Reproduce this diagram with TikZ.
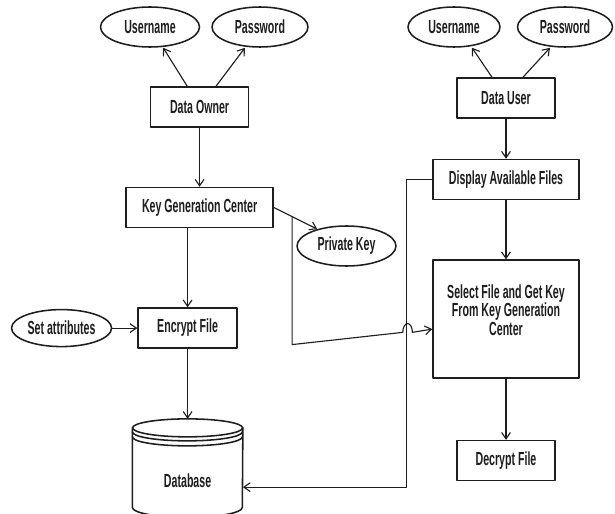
\documentclass[tikz,border=0pt]{standalone}
\usepackage{fontspec}
\usepackage{tikz}
\usetikzlibrary{arrows.meta,positioning,calc,shapes.geometric}
\newfontfamily\boxfont[FakeStretch=0.56]{Liberation Sans}
\definecolor{ink}{HTML}{1E1E1E}
\tikzset{
    every picture/.style={line cap=round,line join=round},
    procbox/.style={draw=ink,fill=white,line width=1.1pt,
      minimum width=24.5mm,minimum height=10mm,inner sep=2pt,
      font={\boxfont\bfseries\fontsize{13.5}{13}\selectfont},text=ink,align=center},
    attrnode/.style={draw=ink,ellipse,fill=white,line width=1.1pt,
      minimum width=24mm,minimum height=10mm,inner sep=1pt,
      font={\boxfont\bfseries\fontsize{13.5}{13}\selectfont},text=ink,align=center},
    flowarrow/.style={-{Straight Barb[length=1.6mm,width=2.2mm]},draw=ink,
      line width=0.8pt}
}
\begin{document}
\begin{tikzpicture}[font=\small]
    \useasboundingbox (0,0) rectangle (15.375,-12.85);
    % data owner side
    \node[procbox] (owner) at (4.99,-2.675) {Data Owner};
    \node[attrnode,minimum width=24.75mm] (user1) at (3.75,-0.675) {Username};
    \node[attrnode] (pass1) at (6.5,-0.675) {Password};
    \node[procbox,minimum width=36.75mm,below=1.475cm of owner] (kgc) {Key Generation Center};
    \node[procbox,minimum width=24.75mm,below=1.975cm of kgc,xshift=-0.3cm] (enc) {Encrypt File};
    \node[attrnode,minimum width=24.25mm,minimum height=9.25mm,left=0.625cm of enc] (attr) {Set attributes};
    \node[minimum width=27.5mm,minimum height=24.5mm,inner sep=0pt,below=1.75cm of enc] (db) {};
    \node[attrnode,minimum width=24.75mm] (pk) at (8.6625,-6.15) {Private Key};
    % database drawing
    \draw[draw=ink,line width=1.1pt,fill=white]
      ([yshift=-0.225cm]db.north west) -- ([yshift=0.25cm]db.south west)
      arc[start angle=180,end angle=360,x radius=1.375cm,y radius=0.25cm]
      -- ([yshift=-0.225cm]db.north east);
    \draw[draw=ink,line width=1.1pt]
      ([yshift=-0.225cm]db.north) ellipse[x radius=1.375cm,y radius=0.225cm];
    \draw[draw=ink,line width=1.1pt]
      ([yshift=-0.325cm]db.north west) arc[start angle=180,end angle=360,x radius=1.375cm,y radius=0.225cm];
    \draw[draw=ink,line width=1.1pt]
      ([yshift=-0.45cm]db.north west) arc[start angle=180,end angle=360,x radius=1.375cm,y radius=0.225cm];
    \node[font={\boxfont\bfseries\fontsize{13.5}{13}\selectfont},text=ink] (dbtxt) at ([yshift=-0.325cm]db.center) {Database};
    % data user side
    \node[procbox] (duser) at (12.65,-2.45) {Data User};
    \node[attrnode,minimum width=23mm] (user2) at (11.35,-0.675) {Username};
    \node[attrnode,minimum width=23.75mm] (pass2) at (14.125,-0.675) {Password};
    \node[procbox,minimum width=36.5mm,below=1cm of duser] (disp) {Display Available Files};
    \node[procbox,minimum width=36.5mm,minimum height=29.5mm,below=1.475cm of disp] (sel)
      {Select File and Get Key\\From Key Generation\\Center\\\mbox{}};
    \node[procbox,below=1.525cm of sel] (dec) {Decrypt File};
    % connectors
    \draw[flowarrow] ([xshift=-0.31cm]owner.north) -- ([xshift=0.33cm]user1.south);
    \draw[flowarrow] ([xshift=0.41cm]owner.north) -- ([xshift=-0.375cm]pass1.south);
    \draw[flowarrow] (owner) -- (kgc);
    \draw[flowarrow] (enc.north |- kgc.south) -- (enc.north);
    \draw[flowarrow] (attr) -- (enc);
    \draw[flowarrow] (enc.south) -- (db.north);
    \draw[flowarrow] (kgc.east) -- (pk.150);
    \coordinate (br) at ($(kgc.east)!0.42!(pk.150)$);
    \coordinate (lo) at ($(br)+(0,-3.2)$);
    \coordinate (hop) at ($(lo)!0.79!([yshift=-0.25cm]sel.west)$);
    \draw[flowarrow] (br) -- (lo) -- (hop)
      arc[start angle=180,end angle=0,x radius=0.12cm,y radius=0.22cm]
      -- ([yshift=-0.25cm]sel.west);
    \draw[flowarrow] ([xshift=-0.35cm]duser.north) -- ([xshift=0.45cm]user2.south);
    \draw[flowarrow] ([xshift=0.425cm]duser.north) -- ([xshift=-0.375cm]pass2.south);
    \draw[flowarrow] (duser) -- (disp);
    \draw[flowarrow] (disp) -- (sel);
    \draw[flowarrow] (sel) -- (dec);
    \draw[flowarrow] (disp.west) -- ++(-0.65,0) |- ([yshift=-0.475cm]db.east);
\end{tikzpicture}
\end{document}
